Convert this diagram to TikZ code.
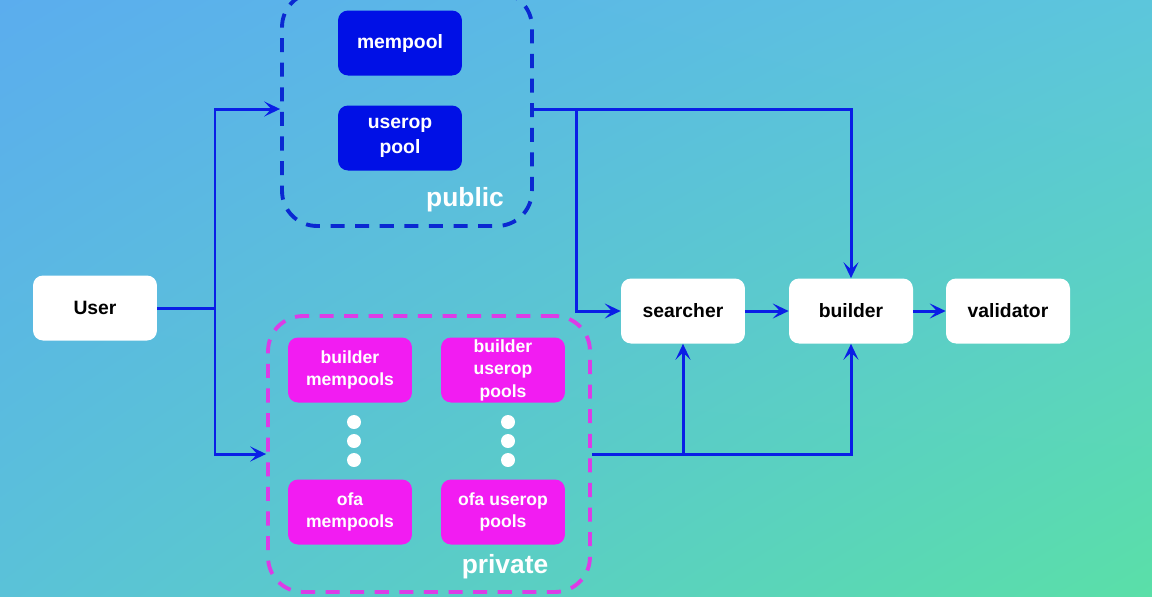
\documentclass[tikz,border=0pt]{standalone}
\usepackage{fontspec}
\setmainfont{Liberation Sans}
\usetikzlibrary{positioning, arrows.meta, shadings}

\definecolor{bgtl}{HTML}{5BADEE}
\definecolor{bgtr}{HTML}{5CC6DC}
\definecolor{bgbl}{HTML}{5AC2D8}
\definecolor{bgbr}{HTML}{5ADFA8}
\definecolor{lineblue}{HTML}{0A1EE6}
\definecolor{poolblue}{HTML}{0010E6}
\definecolor{groupblue}{HTML}{0A28D2}
\definecolor{poolpink}{HTML}{F21CF2}
\definecolor{grouppink}{HTML}{DC3CE6}

\begin{document}
\begin{tikzpicture}[x=0.02cm, y=-0.02cm,
    card/.style={rectangle, rounded corners=0.2cm, fill=white, text=black,
      minimum width=2.48cm, minimum height=1.3cm, inner sep=0pt,
      font=\fontsize{11}{14.5}\selectfont\bfseries, align=center},
    pubpool/.style={card, fill=poolblue, text=white},
    privpool/.style={card, fill=poolpink, text=white,
      font=\fontsize{10}{12.8}\selectfont\bfseries},
    group/.style={rectangle, rounded corners=0.7cm, line width=2.2pt,
      dash pattern=on 8pt off 6pt, fill=none},
    grouplabel/.style={text=white, font=\fontsize{15}{18}\selectfont\bfseries},
    flow/.style={draw=lineblue, line width=1.7pt,
      -{Stealth[length=9pt, width=8.5pt, inset=4pt]}},
    link/.style={draw=lineblue, line width=1.7pt},
    dot/.style={circle, fill=white, minimum size=0.28cm, inner sep=0pt}
  ]
  % -- background --
  \shade[upper left=bgtl, upper right=bgtr, lower left=bgbl, lower right=bgbr]
    (0,0) rectangle (1152,596);
  \useasboundingbox (0,0) rectangle (1152,596);

  % -- 1. PUBLIC side --
  \node[group, draw=groupblue, minimum width=5cm, minimum height=4.68cm] (pub) at (407,109) {};
  \node[pubpool] (mempool) at (400,43) {mempool};
  \node[pubpool] (userop) at (400,138) {userop\\pool};
  \node[grouplabel] (publbl) at (465,200) {public};

  % -- 2. PRIVATE side --
  \node[group, draw=grouppink, minimum width=6.44cm, minimum height=5.52cm] (priv) at (429,454) {};
  \node[privpool] (bmem) at (350,370) {builder\\mempools};
  \node[privpool] (bpool) at (503,370) {builder\\userop\\pools};
  \node[privpool] (omem) at (350,512) {ofa\\mempools};
  \node[privpool] (opool) at (503,512) {ofa userop\\pools};
  \foreach \y in {422,441,460} {
    \node[dot] at (354,\y) {};
    \node[dot] at (508,\y) {};
  }
  \node[grouplabel] (privlbl) at (505,567) {private};

  % -- 3. PIPELINE --
  \node[card] (user) at (95,308) {User};
  \node[card] (searcher) at (683,311) {searcher};
  \node[card] (builder) at (851,311) {builder};
  \node[card] (validator) at (1008,311) {validator};

  % -- 4. CONNECTORS --
  \coordinate (split) at (215,308);
  \coordinate (pubtap) at (576,109);
  \coordinate (privtap) at (683,454);

  \draw[link] (user.east) -- (split);
  \draw[flow] (split) |- (pub.west);
  \draw[flow] (split) |- (priv.west);

  \draw[flow] (pub.east) -| (builder.north);
  \draw[flow] (pubtap) |- (searcher.west);

  \draw[flow] (priv.east) -| (builder.south);
  \draw[flow] (privtap) -- (searcher.south);

  \draw[flow] (searcher) -- (builder);
  \draw[flow] (builder) -- (validator);
\end{tikzpicture}
\end{document}
